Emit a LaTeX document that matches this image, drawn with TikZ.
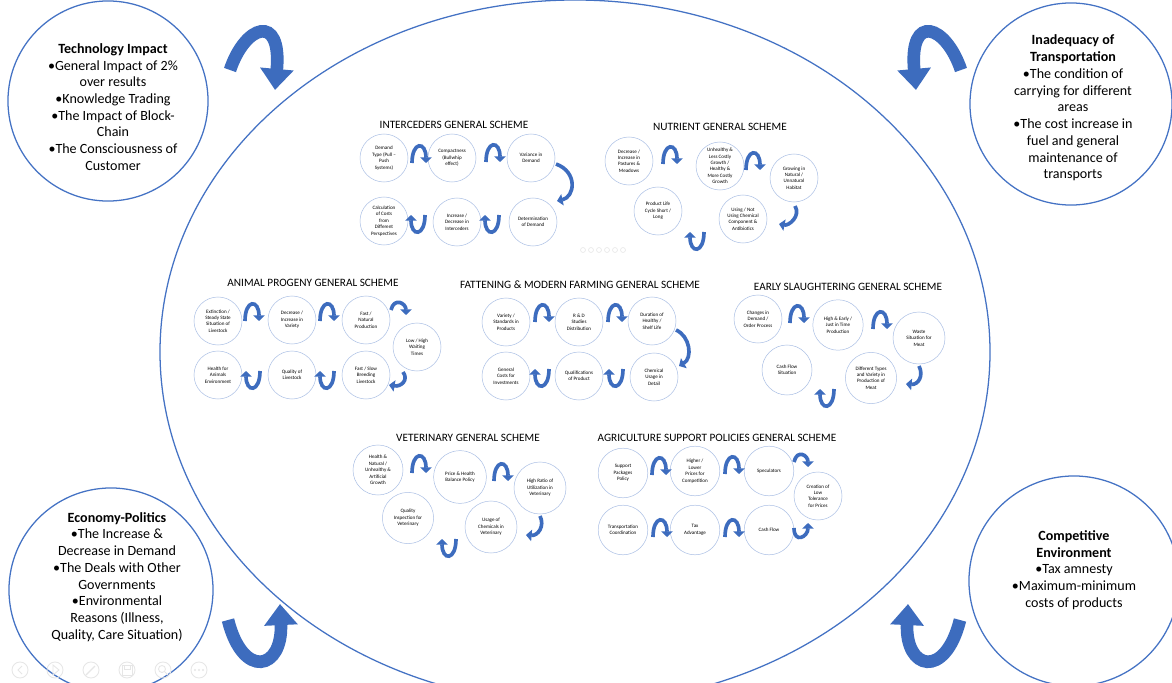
\documentclass[tikz,border=0pt]{standalone}
\usepackage{fontspec}
\setmainfont{Carlito}
\usetikzlibrary{arrows.meta,calc}
\definecolor{ringblue}{HTML}{4472C4}
\definecolor{bubbleblue}{HTML}{A9BEE4}
\definecolor{arrowblue}{HTML}{3D6CBE}
\definecolor{uigray}{HTML}{E6E6E6}
\tikzset{
  ring/.style={draw=ringblue, line width=0.9pt},
  bigtext/.style={align=center, font=\fontsize{10}{11.9}\selectfont},
  schemetitle/.style={font=\fontsize{8}{9}\selectfont},
  bubble/.style={circle, draw=bubbleblue, line width=0.35pt, minimum size=1.2cm, inner sep=0pt, align=center, font=\fontsize{3.6}{4.6}\selectfont},
  cyc/.style={draw=arrowblue, line width=2.6pt, -{Triangle[length=4pt,width=8pt]}},
  bigcyc/.style={draw=arrowblue, line width=9pt, -{Triangle[length=15pt,width=23pt]}},
  capR/.pic={\draw[cyc] (-7,7) .. controls (-7,-15) and (7,-15) .. (7,7);},
  cupL/.pic={\draw[cyc] (7,-7) .. controls (7,15) and (-7,15) .. (-7,-7);}
}
\begin{document}
\begin{tikzpicture}[x=0.025cm,y=-0.025cm]
  \useasboundingbox (0,0) rectangle (1172,683);
  \clip (0,0) rectangle (1172,683);
  \fill[white] (0,0) rectangle (1172,683);

  \draw[ring] (575,352) ellipse [x radius=415, y radius=352];

  \node[ring, circle, minimum size=5cm] (tech) at (108,101) {};
  \node[ring, circle, minimum size=5.05cm] (trans) at (1071,104) {};
  \node[ring, circle, minimum size=5.1cm] (econ) at (111,590) {};
  \node[ring, circle, minimum size=5.25cm] (comp) at (1074,581) {};
  \node[bigtext] (techtxt) at (113,107) {\textbf{Technology Impact}\\•General Impact of 2\%\\over results\\•Knowledge Trading\\•The Impact of Block-\\Chain\\•The Consciousness of\\Customer};
  \node[bigtext] (transtxt) at (1073,108) {\textbf{Inadequacy of}\\\textbf{Transportation}\\•The condition of\\carrying for different\\areas\\•The cost increase in\\fuel and general\\maintenance of\\transports};
  \node[bigtext] (econtxt) at (117,577) {\textbf{Economy-Politics}\\•The Increase \&\\Decrease in Demand\\•The Deals with Other\\Governments\\•Environmental\\Reasons (Illness,\\Quality, Care Situation)};
  \node[bigtext] (comptxt) at (1074,570) {\textbf{Competitive}\\\textbf{Environment}\\•Tax amnesty\\•Maximum-minimum\\costs of products};

  \draw[bigcyc] (230,70) .. controls (245,25) and (282,12) .. (275,90);
  \draw[bigcyc] (961,70) .. controls (946,25) and (909,12) .. (916,90);
  \draw[bigcyc] (228,620) .. controls (243,680) and (283,670) .. (280,604);
  \draw[bigcyc] (960,620) .. controls (945,680) and (905,670) .. (908,604);

  \node[schemetitle] (ititle) at (454,125) {INTERCEDERS GENERAL SCHEME};
  \node[bubble] (i1) at (384,158) {Demand\\Type (Pull –\\Push\\Systems)};
  \node[bubble] (i2) at (452,158) {Compactness\\(Bullwhip\\effect)};
  \node[bubble] (i3) at (531,158) {Variance in\\Demand};
  \node[bubble] (i4) at (533,222) {Determination\\of Demand};
  \node[bubble] (i5) at (457,222) {Increase /\\Decrease in\\Interceders};
  \node[bubble] (i6) at (384,221) {Calculation\\of Costs\\from\\Different\\Perspectives};
  \pic at (419,156) {capR};
  \pic at (493,155) {capR};
  \draw[cyc] ($(i3)+(25,6)$) .. controls +(22,8) and +(18,-4) .. ($(i4)+(24,-21)$);
  \pic at (492,222) {cupL};
  \pic at (418,222) {cupL};

  \node[schemetitle] (ntitle) at (720,127) {NUTRIENT GENERAL SCHEME};
  \node[bubble] (n1) at (629,161) {Decrease /\\Increase in\\Pastures \&\\Meadows};
  \node[bubble] (n2) at (720,166) {Unhealthy \&\\Less Costly\\Growth /\\Healthy \&\\More Costly\\Growth};
  \node[bubble] (n3) at (794,178) {Growing in\\Natural /\\Unnatural\\Habitat};
  \node[bubble] (n4) at (743,219) {Using / Not\\Using Chemical\\Component \&\\Antibiotics};
  \node[bubble] (n5) at (658,211) {Product Life\\Cycle Short /\\Long};
  \pic at (670,157) {capR};
  \pic at (753,163) {capR};
  \draw[cyc] ($(n3)+(1,28)$) .. controls +(6,10) and +(10,2) .. ($(n4)+(36,5)$);
  \pic at (697,239) {cupL};
  \draw[uigray] (583,250) circle [radius=2.5] (591,250) circle [radius=2.5] (599,250) circle [radius=2.5] (607,250) circle [radius=2.5] (615,250) circle [radius=2.5] (623,250) circle [radius=2.5];

  \node[schemetitle] (atitle) at (313,283) {ANIMAL PROGENY GENERAL SCHEME};
  \node[bubble] (a1) at (218,321) {Extinction /\\Steady State\\Situation of\\Livestock};
  \node[bubble] (a2) at (292,320) {Decrease /\\Increase in\\Variety};
  \node[bubble] (a3) at (366,320) {Fast /\\Natural\\Production};
  \node[bubble] (a4) at (417,347) {Low / High\\Waiting\\Times};
  \node[bubble] (a5) at (366,375) {Fast / Slow\\Breeding\\Livestock};
  \node[bubble] (a6) at (292,375) {Quality of\\Livestock};
  \node[bubble] (a7) at (218,375) {Health for\\Animals\\Environment};
  \pic at (252,314) {capR};
  \pic at (327,314) {capR};
  \draw[cyc] ($(a3)+(25,-10)$) .. controls +(3,-13) and +(0,-12) .. ($(a4)+(-11,-32)$);
  \draw[cyc] ($(a4)+(-14,25)$) .. controls +(6,8) and +(12,2) .. ($(a5)+(23,10)$);
  \pic at (327,378) {cupL};
  \pic at (253,378) {cupL};

  \node[schemetitle] (ftitle) at (580,285) {FATTENING \& MODERN FARMING GENERAL SCHEME};
  \node[bubble] (f1) at (506,322) {Variety /\\Standards in\\Products};
  \node[bubble] (f2) at (579,322) {R \& D\\Studies\\Distribution};
  \node[bubble] (f3) at (652,321) {Duration of\\Healthy /\\Shelf Life};
  \node[bubble] (f4) at (654,377) {Chemical\\Usage in\\Detail};
  \node[bubble] (f5) at (579,376) {Qualifications\\of Product};
  \node[bubble] (f6) at (506,376) {General\\Costs for\\Investments};
  \pic at (542,315) {capR};
  \pic at (615,315) {capR};
  \draw[cyc] ($(f3)+(24,9)$) .. controls +(14,6) and +(14,-8) .. ($(f4)+(25,-11)$);
  \pic at (616,376) {cupL};
  \pic at (542,376) {cupL};

  \node[schemetitle] (etitle) at (848,287) {EARLY SLAUGHTERING GENERAL SCHEME};
  \node[bubble] (e1) at (758,319) {Changes in\\Demand /\\Order Process};
  \node[bubble, minimum size=1.26cm] (e2) at (838,325) {High \& Early /\\Just in Time\\Production};
  \node[bubble, minimum size=1.3cm] (e3) at (919,338) {Waste\\Situation for\\Meat};
  \node[bubble, minimum size=1.28cm] (e4) at (871,378) {Different Types\\and Variety in\\Production of\\Meat};
  \node[bubble, minimum size=1.25cm] (e5) at (787,370) {Cash Flow\\Situation};
  \pic at (797,316) {capR};
  \pic at (880,322) {capR};
  \draw[cyc] ($(e3)+(0,28)$) .. controls +(5,10) and +(12,1) .. ($(e4)+(35,6)$);
  \pic at (827,396) {cupL};

  \node[schemetitle] (vtitle) at (468,438) {VETERINARY GENERAL SCHEME};
  \node[bubble, minimum size=1.25cm] (v1) at (378,470) {Health \&\\Natural /\\Unhealthy \&\\Artificial\\Growth};
  \node[bubble, minimum size=1.32cm] (v2) at (460,477) {Price \& Health\\Balance Policy};
  \node[bubble, minimum size=1.3cm] (v3) at (540,488) {High Ratio of\\Utilization in\\Veterinary};
  \node[bubble, minimum size=1.3cm] (v4) at (491,527) {Usage of\\Chemicals in\\Veterinary};
  \node[bubble, minimum size=1.28cm] (v5) at (408,518) {Quality\\Inspection for\\Veterinary};
  \pic at (419,466) {capR};
  \pic at (501,474) {capR};
  \draw[cyc] ($(v3)+(0,28)$) .. controls +(5,10) and +(12,1) .. ($(v4)+(35,8)$);
  \pic at (449,546) {cupL};

  \node[schemetitle] (gtitle) at (717,438) {AGRICULTURE SUPPORT POLICIES GENERAL SCHEME};
  \node[bubble, minimum size=1.24cm] (g1) at (623,473) {Support\\Packages\\Policy};
  \node[bubble, minimum size=1.24cm] (g2) at (695,471) {Higher /\\Lower\\Prices for\\Competition};
  \node[bubble, minimum size=1.24cm] (g3) at (769,471) {Speculators};
  \node[bubble, minimum size=1.2cm] (g4) at (818,496) {Creation of\\Low\\Tolerance\\for Prices};
  \node[bubble, minimum size=1.24cm] (g5) at (769,530) {Cash Flow};
  \node[bubble, minimum size=1.24cm] (g6) at (695,530) {Tax\\Advantage};
  \node[bubble, minimum size=1.24cm] (g7) at (623,530) {Transportation\\Coordination};
  \pic at (659,468) {capR};
  \pic at (732,467) {capR};
  \draw[cyc] ($(g3)+(25,-9)$) .. controls +(3,-13) and +(0,-12) .. ($(g4)+(-10,-29)$);
  \draw[cyc] ($(g5)+(25,-2)$) .. controls +(0,16) and +(0,14) .. ($(g4)+(-10,27)$);
  \pic at (660,530) {capR};
  \pic at (732,530) {capR};

  \draw[uigray, line width=0.6pt] (20,670) circle [radius=8] (55,670) circle [radius=8] (91,670) circle [radius=8] (127,670) circle [radius=8] (163,670) circle [radius=8] (199,670) circle [radius=8];
  \draw[uigray, line width=0.6pt] (22,666) -- (18,670) -- (22,674);
  \draw[uigray, line width=0.6pt] (53,665) -- (59,670) -- (53,675) -- cycle;
  \draw[uigray, line width=0.9pt] (86,675) -- (95,666);
  \draw[uigray, line width=0.6pt] (122,665) rectangle (132,675) (124,665) rectangle (130,669);
  \draw[uigray, line width=0.6pt] (162,669) circle [radius=3.5] (165,672) -- (168,675);
  \fill[uigray] (195,670) circle [radius=1.2] (199,670) circle [radius=1.2] (203,670) circle [radius=1.2];
\end{tikzpicture}
\end{document}
